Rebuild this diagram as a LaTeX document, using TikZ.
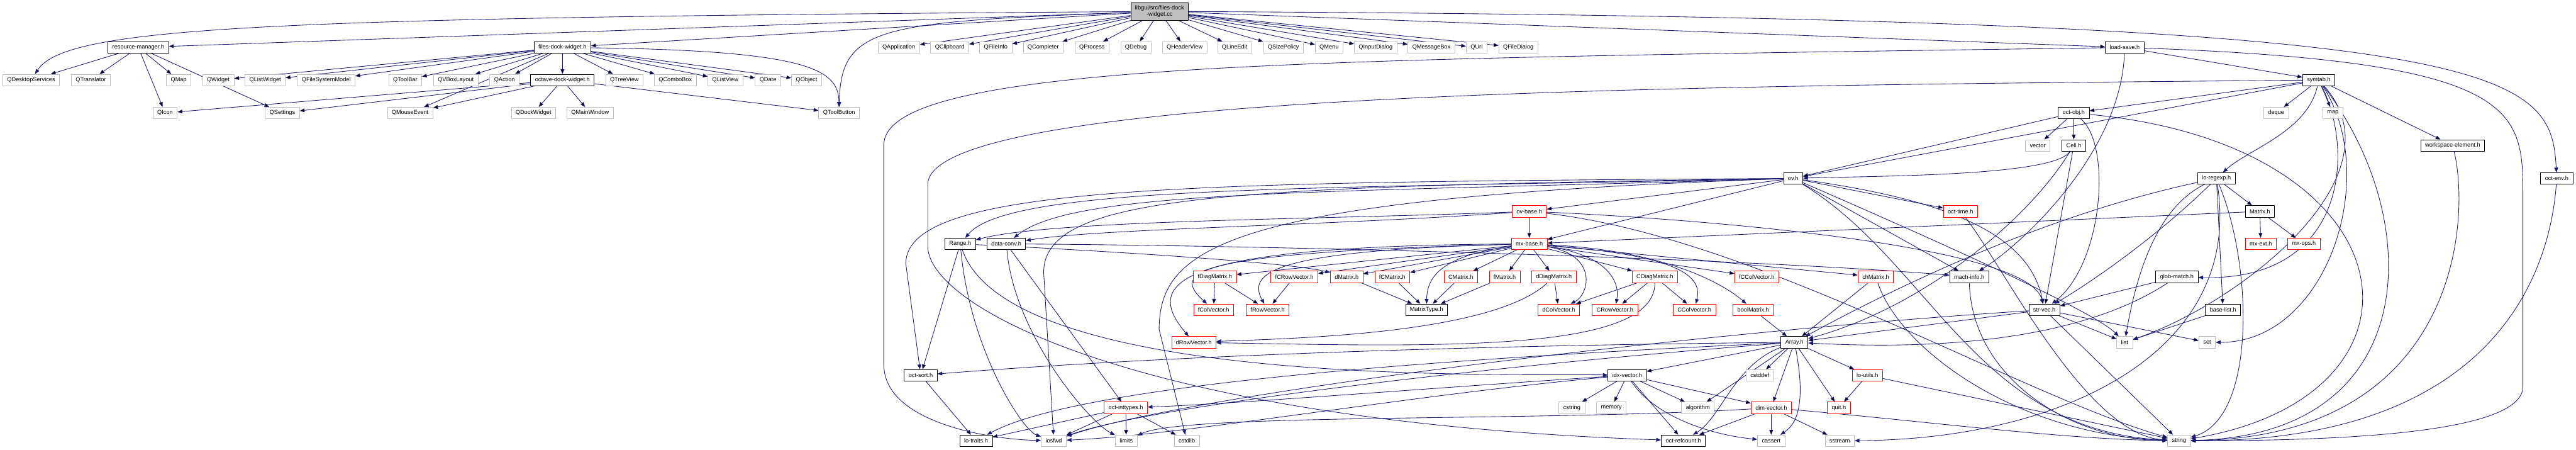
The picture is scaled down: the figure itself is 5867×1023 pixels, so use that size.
\documentclass[tikz,border=0pt]{standalone}
\usepackage{fontspec}
\setmainfont{Liberation Sans}
\usetikzlibrary{arrows.meta,backgrounds}
\definecolor{depblue}{HTML}{191970}
\definecolor{sysgrey}{HTML}{BFBFBF}
\newcommand{\depfont}{\fontsize{3.75pt}{4.4pt}\selectfont}

\begin{document}
\begin{tikzpicture}[
	x=0.01cm, y=0.01cm,
	every node/.style={font=\depfont, rectangle, fill=white, line width=0.3pt,
		inner xsep=0.1cm, inner ysep=0pt, minimum height=0.26cm},
	sys/.style={draw=sysgrey},
	hdr/.style={draw=black},
	trunc/.style={draw=red},
	dep/.style={draw=depblue, line width=0.35pt, -{Triangle[length=0.11cm,width=0.085cm]}},
	line cap=round,
	line join=round
	]
	\useasboundingbox (0,0) rectangle (5867,-1023);
	
	% the source file
	\node[hdr, fill=sysgrey, align=center, minimum height=0.4cm] (top) at (2641,-26) {libgui/src/files-dock\\-widget.cc};
	
	% rank 1
	\node[hdr] (resmgr) at (315,-108) {resource-manager.h};
	\node[hdr] (fdwh) at (1281,-108) {files-dock-widget.h};
	\node[sys] (qapp) at (2047,-108) {QApplication};
	\node[sys] (qclip) at (2163,-108) {QClipboard};
	\node[sys] (qfinfo) at (2268,-108) {QFileInfo};
	\node[sys] (qcompl) at (2376,-108) {QCompleter};
	\node[sys] (qproc) at (2487,-108) {QProcess};
	\node[sys] (qdebug) at (2587,-108) {QDebug};
	\node[sys] (qhdr) at (2698,-108) {QHeaderView};
	\node[sys] (qledit) at (2812,-108) {QLineEdit};
	\node[sys] (qsize) at (2923,-108) {QSizePolicy};
	\node[sys] (qmenu) at (3027,-108) {QMenu};
	\node[sys] (qinput) at (3133,-108) {QInputDialog};
	\node[sys] (qmsg) at (3260,-108) {QMessageBox};
	\node[sys] (qurl) at (3363,-108) {QUrl};
	\node[sys] (qfdlg) at (3458,-108) {QFileDialog};
	\node[hdr] (loadsave) at (4839,-108) {load-save.h};
	
	% rank 2
	\node[sys] (qdesk) at (71,-182) {QDesktopServices};
	\node[sys] (qtrans) at (207,-182) {QTranslator};
	\node[sys] (qmap) at (407,-182) {QMap};
	\node[sys] (qwidget) at (497,-182) {QWidget};
	\node[sys] (qlistw) at (604,-182) {QListWidget};
	\node[sys] (qfsm) at (743,-182) {QFileSystemModel};
	\node[sys] (qtoolbar) at (923,-182) {QToolBar};
	\node[sys] (qvbox) at (1038,-182) {QVBoxLayout};
	\node[sys] (qaction) at (1149,-182) {QAction};
	\node[hdr] (odw) at (1281,-182) {octave-dock-widget.h};
	\node[sys] (qtree) at (1422,-182) {QTreeView};
	\node[sys] (qcombo) at (1538,-182) {QComboBox};
	\node[sys] (qlistv) at (1652,-182) {QListView};
	\node[sys] (qdate) at (1749,-182) {QDate};
	\node[sys] (qobject) at (1837,-182) {QObject};
	\node[hdr] (symtab) at (5281,-182) {symtab.h};
	
	% rank 3
	\node[sys] (qicon) at (376,-257) {QIcon};
	\node[sys] (qsettings) at (643,-257) {QSettings};
	\node[sys] (qmouse) at (934,-257) {QMouseEvent};
	\node[sys] (qdock) at (1215,-257) {QDockWidget};
	\node[sys] (qmain) at (1344,-257) {QMainWindow};
	\node[sys] (qtoolbtn) at (1911,-257) {QToolButton};
	\node[hdr] (octobj) at (4723,-257) {oct-obj.h};
	\node[sys] (deque) at (5184,-257) {deque};
	\node[sys] (map) at (5313,-257) {map};
	
	% rank 4 to 6
	\node[sys] (vector) at (4641,-331) {vector};
	\node[hdr] (cell) at (4723,-331) {Cell.h};
	\node[hdr] (wselem) at (5586,-331) {workspace-element.h};
	\node[hdr] (ovh) at (4084,-406) {ov.h};
	\node[hdr] (loregexp) at (5048,-406) {lo-regexp.h};
	\node[hdr] (octenv) at (5823,-406) {oct-env.h};
	\node[trunc] (ovbase) at (3483,-481) {ov-base.h};
	\node[trunc] (octtime) at (4465,-481) {oct-time.h};
	\node[hdr] (matrix) at (5147,-481) {Matrix.h};
	
	% rank 7
	\node[hdr] (range) at (2187,-555) {Range.h};
	\node[hdr] (dataconv) at (2292,-555) {data-conv.h};
	\node[trunc] (mxbase) at (3483,-555) {mx-base.h};
	\node[trunc] (mxext) at (5149,-555) {mx-ext.h};
	\node[trunc] (mxops) at (5247,-555) {mx-ops.h};
	
	% rank 8
	\node[trunc] (fdiag) at (2767,-630) {fDiagMatrix.h};
	\node[trunc] (fcrow) at (2948,-630) {fCRowVector.h};
	\node[trunc] (dmatrix) at (3067,-630) {dMatrix.h};
	\node[trunc] (fcmatrix) at (3171,-630) {fCMatrix.h};
	\node[trunc] (cmatrix) at (3327,-630) {CMatrix.h};
	\node[trunc] (fmatrix) at (3427,-630) {fMatrix.h};
	\node[trunc] (ddiag) at (3539,-630) {dDiagMatrix.h};
	\node[trunc] (cdiag) at (3769,-630) {CDiagMatrix.h};
	\node[trunc] (fccol) at (4001,-630) {fCColVector.h};
	\node[trunc] (chmatrix) at (4272,-630) {chMatrix.h};
	\node[hdr] (machinfo) at (4485,-630) {mach-info.h};
	\node[hdr] (globmatch) at (4958,-630) {glob-match.h};
	
	% rank 9
	\node[trunc] (fcol) at (2764,-705) {fColVector.h};
	\node[trunc] (frow) at (2887,-705) {fRowVector.h};
	\node[hdr] (mtype) at (3249,-705) {MatrixType.h};
	\node[trunc] (dcol) at (3550,-705) {dColVector.h};
	\node[trunc] (crow) at (3678,-705) {CRowVector.h};
	\node[trunc] (ccol) at (3859,-705) {CColVector.h};
	\node[trunc] (boolm) at (3993,-705) {boolMatrix.h};
	\node[hdr] (strvec) at (4656,-705) {str-vec.h};
	\node[hdr] (baselist) at (5063,-705) {base-list.h};
	
	% rank 10 to 12
	\node[trunc] (drow) at (2719,-779) {dRowVector.h};
	\node[hdr] (arrayh) at (4087,-779) {Array.h};
	\node[sys] (list) at (4839,-779) {list};
	\node[sys] (set) at (5027,-779) {set};
	\node[hdr] (octsort) at (2097,-854) {oct-sort.h};
	\node[hdr] (idxvec) at (3706,-854) {idx-vector.h};
	\node[sys] (cstddef) at (4008,-854) {cstddef};
	\node[trunc] (loutils) at (4253,-854) {lo-utils.h};
	\node[trunc] (octint) at (2564,-928) {oct-inttypes.h};
	\node[sys] (cstring) at (3580,-928) {cstring};
	\node[sys] (memory) at (3670,-928) {memory};
	\node[sys] (algorithm) at (3867,-928) {algorithm};
	\node[trunc] (dimvec) at (4034,-928) {dim-vector.h};
	\node[trunc] (quit) at (4188,-928) {quit.h};
	
	% rank 13
	\node[hdr] (lotraits) at (2223,-1003) {lo-traits.h};
	\node[sys] (iosfwd) at (2400,-1003) {iosfwd};
	\node[sys] (limits) at (2565,-1003) {limits};
	\node[sys] (cstdlib) at (2703,-1003) {cstdlib};
	\node[hdr] (refcount) at (3834,-1003) {oct-refcount.h};
	\node[sys] (cassert) at (4034,-1003) {cassert};
	\node[sys] (sstream) at (4190,-1003) {sstream};
	\node[sys] (string) at (4963,-1003) {string};
	
	\begin{scope}[on background layer]
		% short includes
		\path[dep] (top) edge (resmgr) edge (fdwh) edge (qapp) edge (qclip) edge (qfinfo)
			edge (qcompl) edge (qproc) edge (qdebug) edge (qhdr) edge (qledit) edge (qsize)
			edge (qmenu) edge (qinput) edge (qmsg) edge (qurl) edge (qfdlg) edge (loadsave);
		\path[dep] (resmgr) edge (qdesk) edge (qtrans) edge (qmap) edge (qicon) edge (qsettings);
		\path[dep] (fdwh) edge (qwidget) edge (qlistw) edge (qfsm) edge (qtoolbar) edge (qmouse)
			edge (qvbox) edge (qaction) edge (odw) edge (qtree) edge (qcombo) edge (qlistv)
			edge (qdate) edge (qobject);
		\path[dep] (odw) edge (qicon) edge (qsettings) edge (qmouse) edge (qdock) edge (qmain) edge (qtoolbtn);
		\path[dep] (loadsave) edge (symtab);
		\path[dep] (symtab) edge (deque) edge (map) edge (wselem) edge (octobj) edge (ovh);
		\path[dep] (octobj) edge (vector) edge (cell) edge (ovh);
		\path[dep] (cell) edge (strvec);
		\path[dep] (ovh) edge (ovbase) edge (mxbase) edge (octtime) edge (machinfo);
		\path[dep] (ovbase) edge (mxbase);
		\path[dep] (loregexp) edge (matrix) edge (baselist);
		\path[dep] (matrix) edge (mxext) edge (mxops) edge (mxbase);
		\path[dep] (mxbase) edge (fdiag) edge (fcrow) edge (dmatrix) edge (fcmatrix) edge (cmatrix)
			edge (fmatrix) edge (ddiag) edge (cdiag) edge (fccol) edge (chmatrix);
		\path[dep] (fdiag) edge (fcol) edge (frow);
		\path[dep] (fcrow) edge (frow);
		\path[dep] (dmatrix) edge (mtype);
		\path[dep] (fcmatrix) edge (mtype);
		\path[dep] (cmatrix) edge (mtype);
		\path[dep] (fmatrix) edge (mtype);
		\path[dep] (ddiag) edge (dcol);
		\path[dep] (cdiag) edge (dcol) edge (crow) edge (ccol);
		\path[dep] (chmatrix) edge (arrayh);
		\path[dep] (boolm) edge (arrayh);
		\path[dep] (globmatch) edge (strvec);
		\path[dep] (strvec) edge (list) edge (set) edge (string) edge (arrayh);
		\path[dep] (baselist) edge (list);
		\path[dep] (arrayh) edge (idxvec) edge (algorithm) edge (cstddef) edge (dimvec) edge (quit) edge (loutils);
		\path[dep] (idxvec) edge (cstring) edge (memory) edge (algorithm) edge (dimvec) edge (refcount);
		\path[dep] (dimvec) edge (cassert) edge (sstream) edge (refcount);
		\path[dep] (loutils) edge (quit) edge (string);
		\path[dep] (octint) edge (lotraits) edge (iosfwd) edge (limits) edge (cstdlib);
		\path[dep] (octsort) edge (lotraits);
		\path[dep] (range) edge (octsort);
		\path[dep] (dataconv) edge (octint);
		
		% long includes
		\draw[dep] (top) .. controls (600,-40) and (150,-60) .. (qdesk);
		\draw[dep] (top) .. controls (2000,-50) and (1915,-60) .. (qtoolbtn);
		\draw[dep] (top) .. controls (5700,-40) and (5810,-150) .. (octenv);
		\draw[dep] (fdwh) .. controls (1850,-115) and (1910,-160) .. (qtoolbtn);
		\draw[dep] (loadsave) .. controls (3000,-135) and (2013,-140) .. (2013,-330) -- (2013,-830)
			.. controls (2013,-960) and (2250,-1000) .. (iosfwd);
		\draw[dep] (loadsave) .. controls (5746,-140) and (5746,-250) .. (5746,-450) -- (5746,-880)
			.. controls (5746,-990) and (5300,-1003) .. (string);
		\draw[dep] (loadsave) .. controls (4830,-350) and (4600,-560) .. (machinfo);
		\draw[dep] (symtab) .. controls (5255,-300) and (5120,-340) .. (loregexp);
		\draw[dep] (symtab) .. controls (5365,-350) and (5340,-640) .. (globmatch);
		\draw[dep] (symtab) .. controls (5475,-400) and (5100,-690) .. (list);
		\draw[dep] (symtab) .. controls (5424,-400) and (5300,-780) .. (set);
		\draw[dep] (symtab) .. controls (5526,-500) and (5520,-990) .. (string);
		\draw[dep] (symtab) .. controls (4000,-195) and (2113,-200) .. (2113,-420) -- (2113,-560)
			.. controls (2113,-700) and (2600,-960) .. (refcount);
		\draw[dep] (octobj) .. controls (4810,-330) and (4790,-600) .. (strvec);
		\draw[dep] (octobj) .. controls (5500,-330) and (5577,-900) .. (string);
		\draw[dep] (cell) .. controls (4680,-400) and (4300,-400) .. (ovh);
		\draw[dep] (cell) .. controls (4620,-500) and (4380,-700) .. (arrayh);
		\draw[dep] (wselem) .. controls (5627,-500) and (5600,-995) .. (string);
		\draw[dep] (octenv) .. controls (5809,-600) and (5700,-1005) .. (string);
		\draw[dep] (ovh) .. controls (3000,-430) and (2300,-420) .. (range);
		\draw[dep] (ovh) .. controls (3000,-440) and (2450,-430) .. (dataconv);
		\draw[dep] (ovh) .. controls (2700,-415) and (2063,-420) .. (2063,-600) -- (octsort);
		\draw[dep] (ovh) .. controls (4400,-450) and (4620,-520) .. (strvec);
		\draw[dep] (ovh) .. controls (4400,-600) and (4500,-980) .. (string);
		\draw[dep] (ovh) .. controls (4300,-500) and (4760,-700) .. (list);
		\draw[dep] (ovh) .. controls (2800,-425) and (2377,-440) .. (2377,-620) -- (iosfwd);
		\draw[dep] (ovh) .. controls (2800,-450) and (2640,-560) .. (2640,-750) -- (cstdlib);
		\draw[dep] (ovbase) .. controls (3000,-500) and (2400,-500) .. (range);
		\draw[dep] (ovbase) .. controls (3000,-515) and (2500,-520) .. (dataconv);
		\draw[dep] (ovbase) .. controls (3900,-500) and (4620,-560) .. (strvec);
		\draw[dep] (ovbase) .. controls (4000,-540) and (4600,-900) .. (string);
		\draw[dep] (loregexp) .. controls (4920,-470) and (4870,-600) .. (list);
		\draw[dep] (loregexp) .. controls (5130,-600) and (5140,-950) .. (string);
		\draw[dep] (loregexp) .. controls (5110,-800) and (4700,-1000) .. (sstream);
		\draw[dep] (loregexp) .. controls (4700,-480) and (4380,-620) .. (arrayh);
		\draw[dep] (loregexp) .. controls (4900,-550) and (4750,-650) .. (strvec);
		\draw[dep] (mxbase) .. controls (2700,-575) and (2670,-620) .. (fcol);
		\draw[dep] (mxbase) .. controls (2900,-570) and (2840,-620) .. (frow);
		\draw[dep] (mxbase) .. controls (3300,-580) and (3250,-620) .. (mtype);
		\draw[dep] (mxbase) .. controls (3640,-580) and (3620,-670) .. (dcol);
		\draw[dep] (mxbase) .. controls (3660,-580) and (3690,-640) .. (crow);
		\draw[dep] (mxbase) .. controls (3800,-580) and (3880,-620) .. (ccol);
		\draw[dep] (mxbase) .. controls (3800,-570) and (3930,-650) .. (boolm);
		\draw[dep] (mxbase) .. controls (2680,-560) and (2600,-640) .. (drow);
		\draw[dep] (ddiag) .. controls (3400,-760) and (2950,-770) .. (drow);
		\draw[dep] (cdiag) .. controls (3770,-800) and (3300,-790) .. (drow);
		\draw[dep] (range) .. controls (2600,-575) and (2950,-600) .. (dmatrix);
		\draw[dep] (range) .. controls (2210,-800) and (2330,-980) .. (iosfwd);
		\draw[dep] (range) .. controls (2300,-880) and (3400,-850) .. (idxvec);
		\draw[dep] (dataconv) .. controls (2310,-760) and (2480,-960) .. (limits);
		\draw[dep] (dataconv) .. controls (3000,-560) and (4000,-590) .. (machinfo);
		\draw[dep] (arrayh) .. controls (3000,-790) and (2400,-830) .. (octsort);
		\draw[dep] (arrayh) .. controls (3200,-820) and (2450,-880) .. (lotraits);
		\draw[dep] (arrayh) .. controls (3300,-840) and (2600,-930) .. (iosfwd);
		\draw[dep] (arrayh) .. controls (4110,-900) and (4100,-960) .. (cassert);
		\draw[dep] (arrayh) .. controls (3950,-830) and (3920,-950) .. (refcount);
		\draw[dep] (idxvec) .. controls (3770,-950) and (3900,-990) .. (cassert);
		\draw[dep] (idxvec) .. controls (3300,-880) and (2800,-920) .. (octint);
		\draw[dep] (idxvec) .. controls (3200,-900) and (2700,-990) .. (iosfwd);
		\draw[dep] (dimvec) .. controls (3500,-960) and (2700,-940) .. (limits);
		\draw[dep] (dimvec) .. controls (4400,-960) and (4700,-1000) .. (string);
		\draw[dep] (octtime) .. controls (4560,-600) and (4750,-990) .. (string);
		\draw[dep] (machinfo) .. controls (4490,-850) and (4700,-1000) .. (string);
		\draw[dep] (chmatrix) .. controls (4330,-800) and (4600,-990) .. (string);
		\draw[dep] (globmatch) .. controls (4700,-800) and (4300,-790) .. (arrayh);
		\draw[dep] (strvec) .. controls (3800,-760) and (2700,-900) .. (iosfwd);
	\end{scope}
	
\end{tikzpicture}
\end{document}
